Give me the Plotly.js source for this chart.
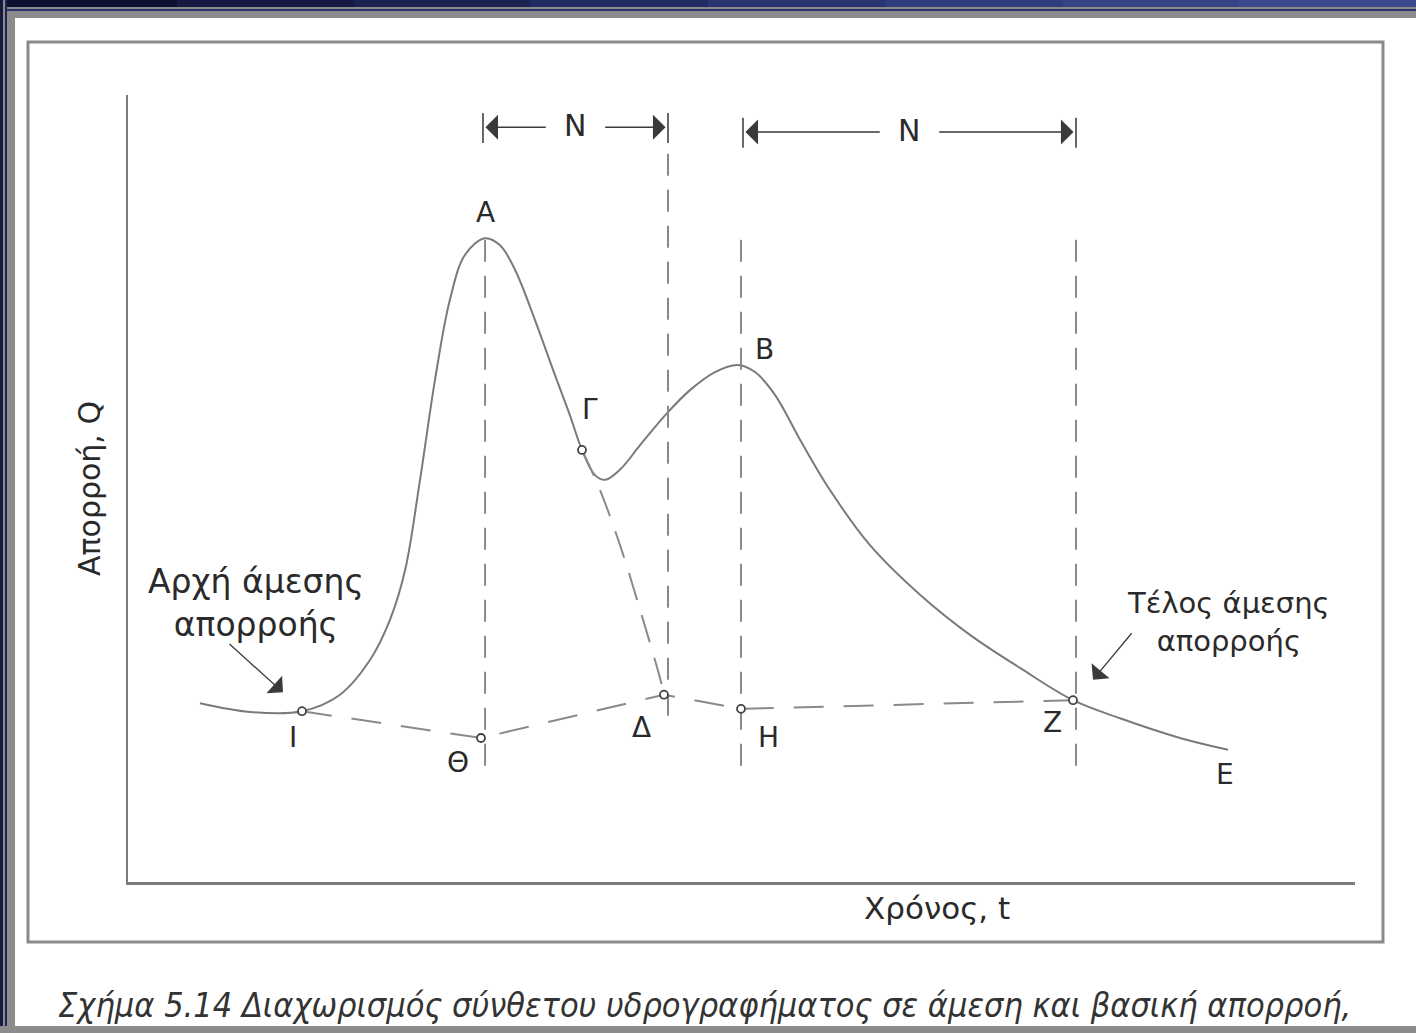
<!DOCTYPE html>
<html>
<head>
<meta charset="utf-8">
<script src="https://cdn.plot.ly/plotly-3.0.1.min.js"></script>
<style>
  html, body { margin: 0; padding: 0; background: #ffffff; overflow: hidden; }
  #chart { width: 1416px; height: 1033px; }
</style>
</head>
<body>
<div id="chart"></div>
<script>
// ---------------- DATA (time t and discharge Q, arbitrary units 0-100) ----------------
const hydroT = [5.87, 9.94, 14.18, 17.28, 19.72, 21.35, 22.58, 23.80, 25.02, 26.24, 27.47, 29.10,
                30.32, 31.54, 33.17, 34.80, 36.02, 37.00, 38.06, 38.88, 40.10, 41.73, 43.77, 45.80,
                47.84, 49.71, 51.10, 52.73, 54.77, 57.21, 60.47, 64.55, 68.62, 72.70, 77.02, 80.85,
                85.74, 89.65];
const hydroQ = [22.7, 21.6, 21.7, 23.8, 28.2, 33.3, 39.6, 51.1, 63.8, 74.0, 79.7, 81.8,
                80.9, 77.8, 71.4, 64.4, 59.3, 54.9, 51.7, 51.1, 52.4, 55.5, 59.3, 62.5,
                64.8, 65.7, 64.8, 61.9, 56.2, 49.8, 42.8, 36.5, 31.4, 27.2, 23.1, 20.8,
                18.3, 16.8];

// baseflow separation points Ι, Θ, Δ, Η, Ζ
const baseLabels = ['Ι', 'Θ', 'Δ', 'Η', 'Ζ'];
const baseT = [14.18, 28.77, 43.68, 49.96, 77.02];
const baseQ = [21.7, 18.3, 23.8, 22.0, 23.1];

// extrapolated recession of first peak, from Γ down to Δ
const recessT = [37.00, 38.47, 40.10, 41.73, 43.36, 43.68];
const recessQ = [54.9, 49.8, 42.8, 34.6, 25.9, 23.8];
const gammaT = 37.00, gammaQ = 54.9;

// vertical dashed guide lines (A, Δ, B/Η, Ζ)
const vertT   = [29.10, 44.01, 49.96, 77.26];
const vertTop = [81.6, 97.1, 81.6, 81.6];
const vertBot = [14.0, 20.6, 13.6, 13.0];

// N intervals
const nStart = [28.93, 50.12];
const nEnd   = [44.01, 77.26];
const nLevel = [95.9, 95.3];

// point labels
const peakLabels = [
  {t: 29.10, q: 85.1, s: 'Α'},
  {t: 51.9,  q: 67.6, s: 'Β'},
  {t: 37.65, q: 60.0, s: 'Γ'},
  {t: 13.45, q: 18.3, s: 'Ι'},
  {t: 26.89, q: 15.2, s: 'Θ'},
  {t: 41.89, q: 19.6, s: 'Δ'},
  {t: 52.16, q: 18.4, s: 'Η'},
  {t: 75.31, q: 20.3, s: 'Ζ'},
  {t: 89.40, q: 13.6, s: 'Ε'}
];

const texts = {
  yTitle: 'Απορροή, Q',
  xTitle: 'Χρόνος, t',
  start: 'Αρχή άμεσης<br>απορροής',
  end: 'Τέλος άμεσης<br>απορροής',
  caption: 'Σχήμα 5.14 Διαχωρισμός σύνθετου υδρογραφήματος σε άμεση και βασική απορροή,'
};

// ---------------- LAYOUT HELPERS ----------------
const W = 1416, H = 1033;
const PL = 128, PR = 1355, PT = 95, PB = 882;
const px = x => (x - PL) / (PR - PL);
const py = y => (PB - y) / (PB - PT);

const lineGray = '#7a7a7a';
const textCol = '#2a2a2a';
const FONT = 'DejaVu Sans, Liberation Sans, sans-serif';

const traces = [];

// main hydrograph
traces.push({
  x: hydroT, y: hydroQ, mode: 'lines', type: 'scatter',
  line: {color: lineGray, width: 2, shape: 'spline', smoothing: 1},
  hoverinfo: 'skip'
});
// baseflow separation line
traces.push({
  x: baseT, y: baseQ, mode: 'lines', type: 'scatter',
  line: {color: '#8a8a8a', width: 2, dash: '30px,20px'}, hoverinfo: 'skip'
});
// extrapolated recession
traces.push({
  x: recessT, y: recessQ, mode: 'lines', type: 'scatter',
  line: {color: '#8a8a8a', width: 2, dash: '28px,16px', shape: 'spline'}, hoverinfo: 'skip'
});
// vertical guides
vertT.forEach((t, i) => {
  traces.push({
    x: [t, t], y: [vertTop[i], vertBot[i]], mode: 'lines', type: 'scatter',
    line: {color: '#8a8a8a', width: 2, dash: '22px,14px'}, hoverinfo: 'skip'
  });
});
// open circle markers
traces.push({
  x: baseT.concat([gammaT]), y: baseQ.concat([gammaQ]), mode: 'markers', type: 'scatter',
  marker: {symbol: 'circle', size: 8, color: '#ffffff', line: {color: '#444', width: 1.8}},
  hoverinfo: 'skip'
});

const shapes = [];
// N interval end ticks
nStart.forEach((t, i) => {
  shapes.push({type: 'line', xref: 'x', yref: 'y', x0: t, x1: t, y0: nLevel[i] - 2.0, y1: nLevel[i] + 1.8,
    line: {color: '#666', width: 2}});
  shapes.push({type: 'line', xref: 'x', yref: 'y', x0: nEnd[i], x1: nEnd[i], y0: nLevel[i] - 2.0, y1: nLevel[i] + 1.8,
    line: {color: '#666', width: 2}});
});

// outer scan border (navy / gray bands)
const navyStops = ['#0f1130', '#151a42', '#1c2352', '#232c62', '#2a3570', '#303d7c', '#364486', '#3b4a8e'];
navyStops.forEach((c, i) => {
  shapes.push({type: 'rect', xref: 'paper', yref: 'paper', layer: 'above',
    x0: px(i * W / navyStops.length), x1: px((i + 1) * W / navyStops.length + 1),
    y0: py(7), y1: py(0), fillcolor: c, line: {width: 0}});
});
const bands = [
  [0, W, 7, 9, '#8a8a8a'], [0, W, 9, 11, '#2b3470'], [0, W, 11, 18, '#8c8c8c'],
  [0, 3, 0, H, '#161a40'], [3, 5, 0, H, '#8a8a8a'], [5, 7, 0, H, '#1f2656'], [7, 15, 11, H, '#8c8c8c'],
  [0, W, 1026, H, '#8c8c8c']
];
bands.forEach(b => shapes.push({type: 'rect', xref: 'paper', yref: 'paper', layer: 'above',
  x0: px(b[0]), x1: px(b[1]), y0: py(b[3]), y1: py(b[2]), fillcolor: b[4], line: {width: 0}}));
// inner figure frame
shapes.push({type: 'rect', xref: 'paper', yref: 'paper', layer: 'above',
  x0: px(28), x1: px(1383), y0: py(942), y1: py(42), line: {color: '#8a8a8a', width: 3}});

const annotations = [];
const ARROW = {showarrow: true, arrowhead: 1, arrowsize: 3, arrowwidth: 1.4, arrowcolor: '#3a3a3a',
  xref: 'x', yref: 'y', axref: 'x', ayref: 'y', text: ''};
// N arrows
nStart.forEach((t, i) => {
  const mid = (t + nEnd[i]) / 2;
  const gap = 2.3;
  annotations.push(Object.assign({x: t + 0.2, y: nLevel[i], ax: mid - gap, ay: nLevel[i]}, ARROW));
  annotations.push(Object.assign({x: nEnd[i] - 0.2, y: nLevel[i], ax: mid + gap, ay: nLevel[i]}, ARROW));
  annotations.push({x: mid, y: nLevel[i] + 0.2, xref: 'x', yref: 'y', text: 'N', showarrow: false,
    font: {family: FONT, size: 30, color: textCol}, bgcolor: '#ffffff', borderpad: 4});
});
// point labels
peakLabels.forEach(p => annotations.push({x: p.t, y: p.q, xref: 'x', yref: 'y', text: p.s, showarrow: false,
  font: {family: FONT, size: 28, color: textCol}}));
// start / end of direct runoff notes
annotations.push({x: 10.45, y: 35.5, xref: 'x', yref: 'y', text: texts.start, showarrow: false, align: 'center',
  font: {family: FONT, size: 33, color: textCol}});
annotations.push(Object.assign({x: 12.63, y: 24.1, ax: 8.15, ay: 30.4}, ARROW, {arrowwidth: 1.3}));
annotations.push({x: 89.65, y: 33.0, xref: 'x', yref: 'y', text: texts.end, showarrow: false, align: 'center',
  font: {family: FONT, size: 29, color: textCol}});
annotations.push(Object.assign({x: 78.65, y: 25.7, ax: 81.9, ay: 31.8}, ARROW, {arrowwidth: 1.3}));
// x-axis title
annotations.push({x: px(937), y: py(908), xref: 'paper', yref: 'paper', xanchor: 'center', yanchor: 'middle',
  text: texts.xTitle, showarrow: false, font: {family: FONT, size: 31, color: textCol}});
// caption
annotations.push({x: px(56), y: py(1005), xref: 'paper', yref: 'paper', xanchor: 'left', yanchor: 'middle',
  text: texts.caption, showarrow: false,
  font: {family: 'Liberation Sans Narrow, DejaVu Sans Condensed, sans-serif', size: 34, style: 'italic', color: '#333'}});

const layout = {
  width: W, height: H,
  margin: {l: PL, r: W - PR, t: PT, b: H - PB, pad: 0},
  paper_bgcolor: '#ffffff', plot_bgcolor: '#ffffff',
  showlegend: false, hovermode: false,
  xaxis: {range: [0, 100], showline: true, linecolor: '#7c7c7c', linewidth: 2.5, showgrid: false,
    zeroline: false, showticklabels: false, ticks: '', fixedrange: true},
  yaxis: {range: [0, 100], showline: true, linecolor: '#7c7c7c', linewidth: 2.5, showgrid: false,
    zeroline: false, showticklabels: false, ticks: '', fixedrange: true,
    title: {text: texts.yTitle, standoff: 16, font: {family: FONT, size: 30, color: textCol}}},
  shapes: shapes,
  annotations: annotations
};

Plotly.newPlot('chart', traces, layout, {displayModeBar: false, staticPlot: true});
</script>
</body>
</html>
